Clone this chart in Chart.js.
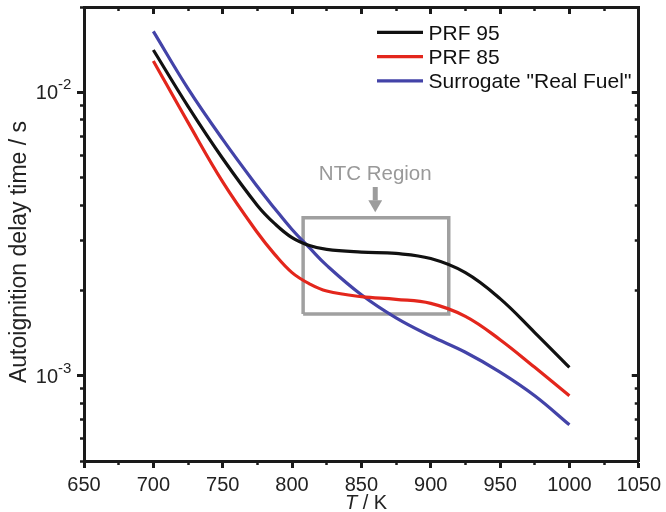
<!DOCTYPE html>
<html>
<head>
<meta charset="utf-8">
<script src="https://cdn.jsdelivr.net/npm/chart.js@4.4.1/dist/chart.umd.min.js"></script>
<style>
html, body { margin: 0; padding: 0; background: #fff; }
canvas { display: block; }
</style>
</head>
<body>
<canvas id="chart" width="666" height="512"></canvas>
<script>
// values (denser around the 800 K knee)
const temperatures = [700, 725, 750, 775, 787.5, 800, 812.5, 825, 850, 875, 900, 925, 950, 975, 1000];
const prf95 = [1.41e-2, 8.92e-3, 5.84e-3, 3.99e-3, 3.44e-3, 3.07e-3, 2.88e-3, 2.79e-3, 2.73e-3, 2.70e-3, 2.59e-3, 2.31e-3, 1.87e-3, 1.42e-3, 1.07e-3];
const prf85 = [1.29e-2, 7.83e-3, 4.83e-3, 3.20e-3, 2.68e-3, 2.31e-3, 2.11e-3, 1.99e-3, 1.90e-3, 1.86e-3, 1.80e-3, 1.62e-3, 1.34e-3, 1.07e-3, 8.50e-4];
const surrogate = [1.64e-2, 1.03e-2, 6.82e-3, 4.65e-3, 3.89e-3, 3.28e-3, 2.83e-3, 2.45e-3, 1.93e-3, 1.60e-3, 1.38e-3, 1.21e-3, 1.03e-3, 8.50e-4, 6.71e-4];
const seriesNames = ['PRF 95', 'PRF 85', 'Surrogate "Real Fuel"'];

// axis ticks
const xMajorTicks = [650, 700, 750, 800, 850, 900, 950, 1000, 1050];
const xMinorTicks = [675, 725, 775, 825, 875, 925, 975, 1025];
const yMajorTicks = [1e-3, 1e-2];
const yMinorTicks = [5e-4, 6e-4, 7e-4, 8e-4, 9e-4, 2e-3, 3e-3, 4e-3, 5e-3, 6e-3, 7e-3, 8e-3, 9e-3, 2e-2];

// NTC annotation (data coordinates)
const ntcT = [808, 913];
const ntcTau = [1.65e-3, 3.61e-3];
const arrowT = 860;
const arrowTau = [4.63e-3, 4.15e-3];
const arrowHeadTau = 4.03e-3;
const ntcLabel = 'NTC Region';
const ntcLabelTau = 4.91e-3;

const FONT = '"Liberation Sans", Arial, Helvetica, sans-serif';
const AXIS = '#1a1a1a';
const colors = ['#111111', '#e3261c', '#4343a8'];

function pts(ys) {
  return temperatures.map((t, i) => ({ x: t, y: ys[i] }));
}
function setTicks(list) {
  return function (scale) { scale.ticks = list.map(v => ({ value: v })); };
}
function fixSize(size) {
  return function (scale) {
    if (scale.isHorizontal()) scale.height = size; else scale.width = size;
  };
}
function tickAxis(type, position, weight, list, len, width, withBorder, size) {
  return {
    type: type,
    position: position,
    weight: weight,
    min: type === 'logarithmic' ? 5e-4 : 650,
    max: type === 'logarithmic' ? 2e-2 : 1050,
    border: { display: withBorder, color: AXIS, width: 3 },
    grid: { drawOnChartArea: false, drawTicks: true, tickLength: len, tickWidth: width, tickColor: AXIS },
    ticks: { display: false },
    afterBuildTicks: setTicks(list),
    afterFit: fixSize(size)
  };
}

const curves = [prf95, prf85, surrogate].map((ys, i) => ({
  label: seriesNames[i],
  data: pts(ys),
  borderColor: colors[i],
  borderWidth: 3.2,
  pointRadius: 0,
  tension: 0.4,
  fill: false
}));

const boxData = [
  { x: ntcT[0], y: ntcTau[0] }, { x: ntcT[0], y: ntcTau[1] },
  { x: ntcT[1], y: ntcTau[1] }, { x: ntcT[1], y: ntcTau[0] },
  { x: ntcT[0], y: ntcTau[0] }
];

const extras = [
  { label: 'box', data: boxData, borderColor: '#a0a0a0', borderWidth: 3.5, pointRadius: 0, tension: 0, borderJoinStyle: 'miter', fill: false },
  { label: 'arrow', data: arrowTau.map(v => ({ x: arrowT, y: v })), borderColor: '#9c9c9c', borderWidth: 5, pointRadius: 0, tension: 0, fill: false },
  { label: 'head', data: [{ x: arrowT, y: arrowHeadTau }], showLine: false, pointStyle: 'triangle', pointRotation: 180, pointRadius: 8, pointBackgroundColor: '#9c9c9c', pointBorderWidth: 0 }
];

const decorations = {
  id: 'decorations',
  afterDraw(chart) {
    const ctx = chart.ctx;
    const xs = chart.scales.x, ys = chart.scales.y;
    ctx.save();

    // y tick labels as powers of ten
    ctx.fillStyle = '#222';
    ctx.textBaseline = 'alphabetic';
    yMajorTicks.forEach(v => {
      const py = ys.getPixelForValue(v);
      const e = Math.round(Math.log10(v));
      ctx.font = '20px ' + FONT;
      ctx.textAlign = 'right';
      ctx.fillText('10', 58, py + 7);
      ctx.font = '15px ' + FONT;
      ctx.textAlign = 'left';
      ctx.fillText('-' + Math.abs(e), 58, py - 3);
    });

    // y title
    ctx.save();
    ctx.translate(19.5, 252);
    ctx.rotate(-Math.PI / 2);
    ctx.font = '23px ' + FONT;
    ctx.textAlign = 'center';
    ctx.textBaseline = 'middle';
    ctx.fillText('Autoignition delay time / s', 0, 0);
    ctx.restore();

    // x title: italic T / K
    ctx.font = 'italic 20px ' + FONT;
    const wT = ctx.measureText('T').width;
    ctx.font = '20px ' + FONT;
    const wRest = ctx.measureText(' / K').width;
    let tx = 366 - (wT + wRest) / 2;
    ctx.textAlign = 'left';
    ctx.font = 'italic 20px ' + FONT;
    ctx.fillText('T', tx, 509);
    ctx.font = '20px ' + FONT;
    ctx.fillText(' / K', tx + wT, 509);

    // NTC label
    ctx.fillStyle = '#999';
    ctx.font = '20.5px ' + FONT;
    ctx.textAlign = 'center';
    ctx.fillText(ntcLabel, xs.getPixelForValue(arrowT), ys.getPixelForValue(ntcLabelTau));

    // legend
    ctx.font = '21px ' + FONT;
    ctx.textAlign = 'left';
    chart.data.datasets.slice(0, 3).forEach((ds, i) => {
      const ly = 32.3 + i * 24.3;
      ctx.strokeStyle = ds.borderColor;
      ctx.lineWidth = 3.2;
      ctx.beginPath();
      ctx.moveTo(377, ly);
      ctx.lineTo(423, ly);
      ctx.stroke();
      ctx.fillStyle = '#111';
      ctx.fillText(ds.label, 428.5, ly + 7.5);
    });
    ctx.restore();
  }
};

new Chart(document.getElementById('chart'), {
  type: 'line',
  data: { datasets: curves.concat(extras) },
  options: {
    responsive: false,
    animation: false,
    devicePixelRatio: 1,
    layout: { padding: 0, autoPadding: false },
    plugins: { legend: { display: false }, tooltip: { enabled: false } },
    scales: {
      x: {
        type: 'linear',
        position: 'bottom',
        weight: 1,
        min: 650,
        max: 1050,
        border: { display: true, color: AXIS, width: 3 },
        grid: { drawOnChartArea: false, drawTicks: true, tickLength: 7, tickWidth: 3, tickColor: AXIS },
        ticks: { autoSkip: false, maxRotation: 0, padding: 5, color: '#222', font: { family: FONT, size: 20 }, callback: v => String(v) },
        afterBuildTicks: setTicks(xMajorTicks),
        afterFit: fixSize(51)
      },
      xm: tickAxis('linear', 'bottom', 0, xMinorTicks, 4, 2.5, false, 0),
      xt: tickAxis('linear', 'top', 1, xMajorTicks, -7, 3, true, 7),
      xtm: tickAxis('linear', 'top', 0, xMinorTicks, -4, 2.5, false, 0),
      y: tickAxis('logarithmic', 'left', 1, yMajorTicks, 7, 3, true, 84),
      ym: tickAxis('logarithmic', 'left', 0, yMinorTicks, 4, 2.5, false, 0),
      yr: tickAxis('logarithmic', 'right', 1, yMajorTicks, -7, 3, true, 24),
      yrm: tickAxis('logarithmic', 'right', 0, yMinorTicks, -4, 2.5, false, 0)
    }
  },
  plugins: [decorations]
});
</script>
</body>
</html>
